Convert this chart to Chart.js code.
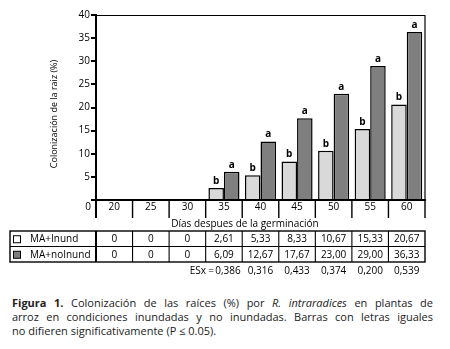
<!DOCTYPE html>
<html><head><meta charset="utf-8">
<script src="https://cdn.jsdelivr.net/npm/chart.js@4"></script>
<style>
html,body{margin:0;padding:0;background:#fff;}
#wrap{position:relative;width:450px;height:349px;overflow:hidden;}
#c{position:absolute;left:0;top:0;}
.cap{position:absolute;left:12px;width:421px;font-family:"Open Sans",sans-serif;font-size:11px;line-height:13px;color:#222;white-space:nowrap;}
.j{text-align:justify;text-align-last:justify;}
</style></head>
<body><div id="wrap">
<canvas id="c" width="450" height="292"></canvas>
<div class="cap j" style="top:296px"><b style="font-weight:700">Figura 1.</b> Colonización de las raíces (%) por <i>R. intraradices</i> en plantas de</div>
<div class="cap j" style="top:310px">arroz en condiciones inundadas y no inundadas. Barras con letras iguales</div>
<div class="cap" style="top:324px">no difieren significativamente (P ≤ 0.05).</div>
</div>
<script>
const categories = ['20','25','30','35','40','45','50','55','60'];
const seriesNames = ['MA+Inund','MA+noInund'];
const valuesInund = [0,0,0,2.61,5.33,8.33,10.67,15.33,20.67];
const valuesNoInund = [0,0,0,6.09,12.67,17.67,23.00,29.00,36.33];
const labelsInund = ['0','0','0','2,61','5,33','8,33','10,67','15,33','20,67'];
const labelsNoInund = ['0','0','0','6,09','12,67','17,67','23,00','29,00','36,33'];
const lettersInund = ['','','','b','b','b','b','b','b'];
const lettersNoInund = ['','','','a','a','a','a','a','a'];
const esxLabels = ['','','','0,386','0,316','0,433','0,374','0,200','0,539'];
const yTitle = 'Colonización de la raiz (%)';
const xTitle = 'Días despues de la germinación';
const colors = ['#d9d9d9','#7f7f7f'];

const FONT = '"Open Sans", sans-serif';

const tablePlugin = {
  id: 'tablePlugin',
  afterDatasetsDraw(chart) {
    const ctx = chart.ctx;
    const xs = chart.scales.x, ys = chart.scales.y;
    const ca = chart.chartArea;
    const n = categories.length;
    const cw = (xs.right - xs.left) / n;
    ctx.save();
    // plot frame (top, right)
    ctx.strokeStyle = '#000';
    ctx.lineWidth = 1.2;
    ctx.beginPath();
    ctx.moveTo(ca.left, ca.top + 0.5); ctx.lineTo(ca.right, ca.top + 0.5);
    ctx.lineTo(ca.right, ca.bottom);
    ctx.stroke();
    // letters above bars
    ctx.fillStyle = '#000';
    ctx.font = 'bold 10px ' + FONT;
    ctx.textAlign = 'center';
    ctx.textBaseline = 'alphabetic';
    [lettersInund, lettersNoInund].forEach((letters, di) => {
      const meta = chart.getDatasetMeta(di);
      meta.data.forEach((bar, i) => {
        if (letters[i]) ctx.fillText(letters[i], bar.x, bar.y - 4);
      });
    });
    // y title
    ctx.font = '9px ' + FONT;
    ctx.textBaseline = 'middle';
    ctx.save();
    ctx.translate(54, 114);
    ctx.rotate(-Math.PI / 2);
    ctx.fillText(yTitle, 0, 0);
    ctx.restore();
    // separators under x axis
    const yb = ys.getPixelForValue(0);
    for (let i = 0; i <= n; i++) {
      const x = xs.left + i * cw;
      ctx.lineWidth = (i === 0) ? 2 : 1.4;
      ctx.beginPath(); ctx.moveTo(x, yb); ctx.lineTo(x, yb + 18); ctx.stroke();
    }
    // y zero label
    ctx.font = '10px ' + FONT;
    ctx.textAlign = 'right'; ctx.textBaseline = 'middle';
    ctx.fillText('0', xs.left - 5, yb + 7.5);
    // x title
    ctx.textAlign = 'center';
    ctx.fillText(xTitle, 245, 224);
    // table
    const tTop = 231, tMid = 246.5, tBot = 262, tLeft = 10, tRight = xs.right;
    ctx.lineWidth = 1.4;
    ctx.strokeRect(tLeft, tTop, tRight - tLeft, tBot - tTop);
    ctx.lineWidth = 1.2;
    ctx.beginPath(); ctx.moveTo(tLeft, tMid); ctx.lineTo(tRight, tMid); ctx.stroke();
    for (let i = 0; i < n; i++) {
      const x = xs.left + i * cw;
      ctx.lineWidth = (i === 0) ? 2 : 1.1;
      ctx.beginPath(); ctx.moveTo(x, tTop); ctx.lineTo(x, tBot); ctx.stroke();
    }
    const rows = [labelsInund, labelsNoInund];
    const rowY = [(tTop + tMid) / 2 + 0.5, (tMid + tBot) / 2 + 0.5];
    rows.forEach((row, r) => {
      ctx.fillStyle = r === 0 ? '#ffffff' : colors[1];
      ctx.fillRect(13.5, rowY[r] - 3.5, 7, 7);
      ctx.lineWidth = 1;
      ctx.strokeRect(13.5, rowY[r] - 3.5, 7, 7);
      ctx.fillStyle = '#000';
      ctx.textAlign = 'left';
      ctx.fillText(seriesNames[r], 30, rowY[r]);
      ctx.textAlign = 'center';
      row.forEach((t, i) => ctx.fillText(t, xs.getPixelForValue(i), rowY[r]));
    });
    // ESx row
    const yE = 271;
    let first = true;
    esxLabels.forEach((t, i) => {
      if (!t) return;
      const cx = xs.getPixelForValue(i) + (first ? 4 : 0);
      if (first) {
        ctx.textAlign = 'right';
        ctx.fillText('ESx', 206, yE);
        ctx.textAlign = 'center';
        ctx.fillText('=', 211, yE);
        first = false;
      }
      ctx.textAlign = 'center';
      ctx.fillText(t, cx, yE);
    });
    ctx.restore();
  }
};

new Chart(document.getElementById('c'), {
  type: 'bar',
  data: {
    labels: categories,
    datasets: [
      { label: seriesNames[0], data: valuesInund, backgroundColor: colors[0], borderColor: '#000', borderWidth: 1.5, categoryPercentage: 0.85, barPercentage: 1.0 },
      { label: seriesNames[1], data: valuesNoInund, backgroundColor: colors[1], borderColor: '#000', borderWidth: 1.5, categoryPercentage: 0.85, barPercentage: 1.0 }
    ]
  },
  options: {
    responsive: false,
    animation: false,
    layout: { padding: { left: 0, right: 25, top: 15, bottom: 0 } },
    plugins: { legend: { display: false }, tooltip: { enabled: false } },
    scales: {
      x: {
        afterFit(s) { s.height = 92; },
        grid: { display: false, drawTicks: false },
        border: { display: true, color: '#000', width: 2 },
        ticks: { color: '#000', font: { family: FONT, size: 10 }, padding: 1, maxRotation: 0, autoSkip: false }
      },
      y: {
        min: 0, max: 40,
        afterFit(s) { s.width = 96; },
        border: { display: true, color: '#000', width: 2 },
        grid: { drawOnChartArea: false, drawTicks: true, tickLength: 5, lineWidth: 2, color: '#000' },
        ticks: { stepSize: 5, color: '#000', font: { family: FONT, size: 10 }, padding: 1,
          callback: v => v === 0 ? '' : String(v) },
        title: { display: false }
      }
    }
  },
  plugins: [tablePlugin]
});
</script>
</body></html>
